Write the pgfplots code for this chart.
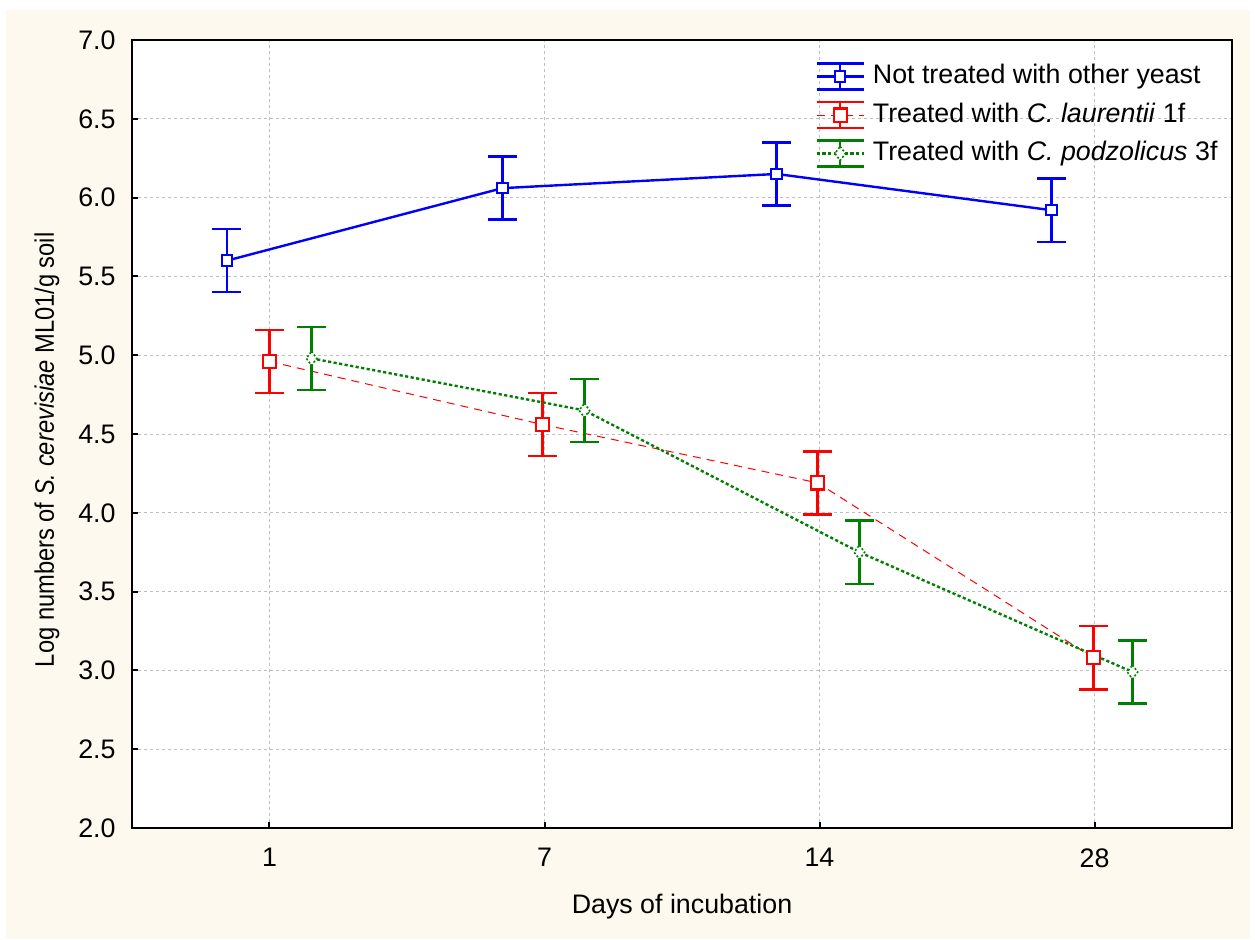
\documentclass[border=0pt]{standalone}
\usepackage{fontspec}
\setmainfont{Liberation Sans}
\usepackage{pgfplots}
\pgfplotsset{compat=1.18}
\definecolor{paper}{RGB}{254,249,238}
\definecolor{sgreen}{RGB}{0,128,0}
\definecolor{gridgray}{RGB}{190,190,190}

\begin{document}
\begin{tikzpicture}[font=\fontsize{13.4}{16}\selectfont]
\path[use as bounding box] (0,0) rectangle (627.5pt,469.5pt);
\fill[paper] (3pt,0) rectangle (625pt,464.5pt);
\begin{axis}[
  at={(66pt,55.5pt)}, anchor=south west,
  scale only axis, width=550pt, height=394pt,
  xmin=-0.5, xmax=3.5, ymin=2, ymax=7,
  axis background/.style={fill=white},
  axis line style={line width=1pt},
  xtick={0,1,2,3}, xticklabels={1,7,14,28},
  ytick={2,2.5,...,7},
  yticklabel style={/pgf/number format/.cd, fixed, fixed zerofill, precision=1, /tikz/.cd},
  /pgf/number format/assume math mode=true,
  tick align=inside, major tick length=3pt,
  tick style={black, line width=1pt},
  xtick pos=bottom, ytick pos=left,
  yticklabel style={inner sep=0pt, xshift=-8pt},
  xticklabel style={inner sep=0pt, yshift=-10pt},
  grid=major,
  major grid style={gridgray, line width=0.5pt, dash pattern=on 1.5pt off 1.5pt},
  xlabel={Days of incubation},
  ylabel={\scalebox{0.884}[1]{Log numbers of \textit{S. cerevisiae} ML01/g soil}},
  xlabel style={at={(axis description cs:0.5,-0.1003)}, anchor=center},
  ylabel style={at={(axis description cs:-0.0773,0.48)}, anchor=center},
  legend style={at={(axis description cs:0.621,0.972)}, anchor=north west,
    draw=none, fill=none, inner sep=0pt, row sep=5pt,
    nodes={inner sep=1pt, text height=9.5pt, text depth=2.5pt},
    /tikz/every odd column/.append style={column sep=3pt}},
  legend cell align=left,
  legend image code/.code={
    \draw[#1,solid,line width=1.2pt,mark=none]
      (11.75pt,-6.5pt) -- (11.75pt,6.5pt)
      (0pt,6.5pt) -- (23.5pt,6.5pt)
      (0pt,-6.5pt) -- (23.5pt,-6.5pt);
    \draw[mark repeat=2,mark phase=2,#1]
      plot coordinates {(0pt,0pt) (11.75pt,0pt) (23.5pt,0pt)};
  },
  error bars/error bar style={solid, line width=1.2pt},
  error bars/error mark options={solid, rotate=90, line width=1.2pt, mark size=7.25pt},
]
% not treated
\addplot[blue, line width=1.2pt, mark=square*, mark size=2.6pt,
  mark options={fill=white, solid, line width=1pt},
  error bars/.cd, y dir=both, y explicit]
  coordinates {(-0.155,5.60) +- (0,0.2) (0.847,6.06) +- (0,0.2)
               (1.844,6.15) +- (0,0.2) (2.844,5.92) +- (0,0.2)};
\addlegendentry{Not treated with other yeast}
% C. laurentii 1f
\addplot[red, line width=0.5pt, dash pattern=on 4pt off 3pt,
  mark=square*, mark size=3.3pt,
  mark options={fill=white, solid, line width=1.1pt},
  error bars/.cd, y dir=both, y explicit]
  coordinates {(0,4.96) +- (0,0.2) (0.993,4.56) +- (0,0.2)
               (1.993,4.19) +- (0,0.2) (2.996,3.08) +- (0,0.2)};
\addlegendentry{Treated with \textit{C. laurentii} 1f}
% C. podzolicus 3f
\addplot[sgreen, line width=1.2pt, dash pattern=on 1.6pt off 1.2pt,
  mark=diamond*, mark size=3.5pt,
  mark options={fill=white, line width=0.8pt, dash pattern=on 1pt off 1pt},
  error bars/.cd, y dir=both, y explicit]
  coordinates {(0.153,4.98) +- (0,0.2) (1.145,4.65) +- (0,0.2)
               (2.145,3.75) +- (0,0.2) (3.138,2.99) +- (0,0.2)};
\addlegendentry{Treated with \textit{C. podzolicus} 3f}
\end{axis}
\end{tikzpicture}
\end{document}
